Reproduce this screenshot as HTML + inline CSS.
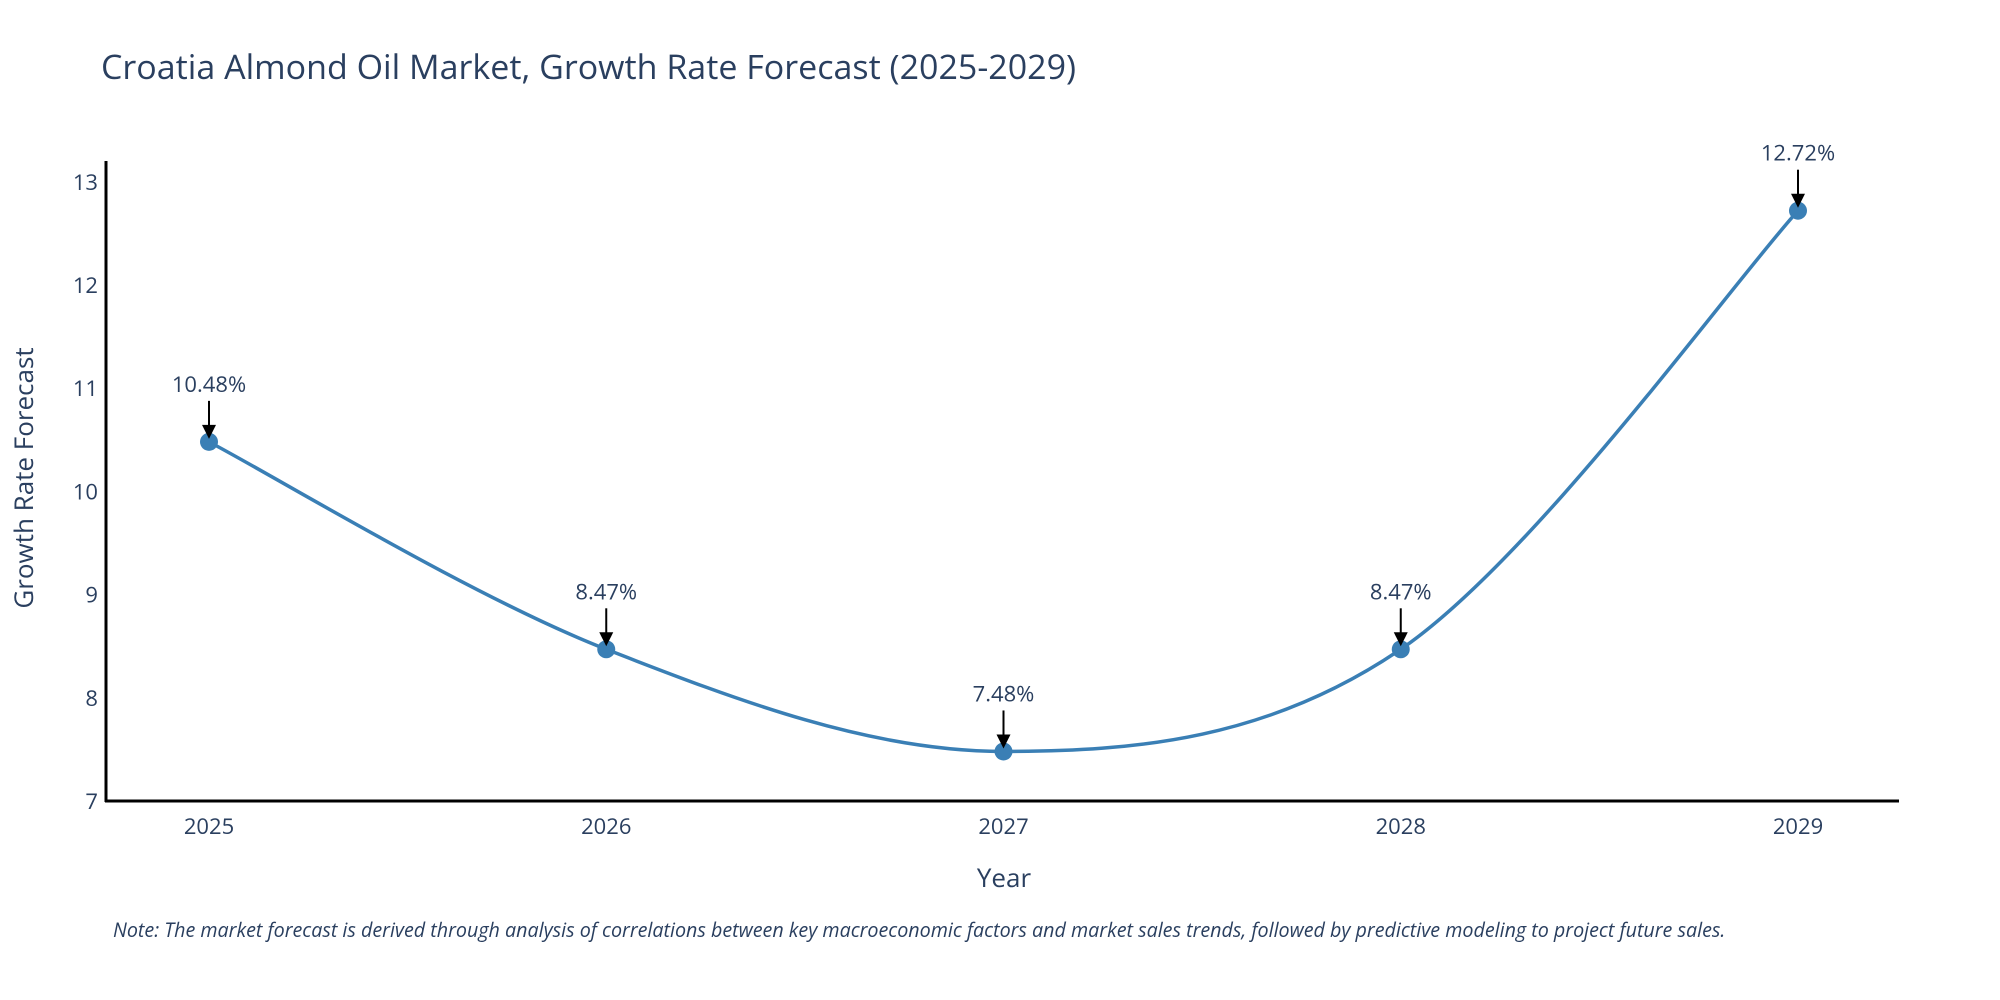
<!DOCTYPE html>
<html><head><meta charset="utf-8"><style>
html,body{margin:0;padding:0;background:#fff;}
svg{display:block;font-family:"Open Sans","Liberation Sans",sans-serif;}
</style></head><body>
<svg id="chart" width="2000" height="1000" viewBox="0 0 2000 1000">
<text x="101" y="79" font-size="34" fill="#2a3f5f">Croatia Almond Oil Market, Growth Rate Forecast (2025-2029)</text>
<g id="yticks"></g>
<g id="xticks"></g>
<line x1="106" y1="161" x2="106" y2="802" stroke="#000" stroke-width="3"/>
<line x1="105" y1="801" x2="1899" y2="801" stroke="#000" stroke-width="3"/>
<path id="line" fill="none" stroke="#3a7fb5" stroke-width="3.5"/>
<g id="points"></g>
<g id="annots"></g>
<text x="1004" y="887" font-size="26" fill="#2a3f5f" text-anchor="middle">Year</text>
<text x="0" y="0" font-size="26" fill="#2a3f5f" text-anchor="middle" transform="translate(33,478) rotate(-90)">Growth Rate Forecast</text>
<text x="113" y="937" font-size="19.7" font-style="italic" fill="#2a3f5f">Note: The market forecast is derived through analysis of correlations between key macroeconomic factors and market sales trends, followed by predictive modeling to project future sales.</text>
</svg>
<script>
const years = ["2025","2026","2027","2028","2029"];
const values = [10.48, 8.47, 7.48, 8.47, 12.72];
const labels = ["10.48%","8.47%","7.48%","8.47%","12.72%"];
const yTicks = [7,8,9,10,11,12,13];
const NS="http://www.w3.org/2000/svg";
const xs=i=>209+i*397.25;
const ys=v=>801-(v-7)*103.2;
function mk(t,a,p){const e=document.createElementNS(NS,t);for(const k in a)e.setAttribute(k,a[k]);p.appendChild(e);return e;}
const yt=document.getElementById('yticks');
yTicks.forEach(v=>{const t=mk('text',{x:98,y:ys(v)+8,'font-size':22,fill:'#2a3f5f','text-anchor':'end'},yt);t.textContent=v;

});
const xt=document.getElementById('xticks');
years.forEach((y,i)=>{const t=mk('text',{x:xs(i),y:834,'font-size':22,fill:'#2a3f5f','text-anchor':'middle'},xt);t.textContent=y;

});
const P=values.map((v,i)=>[xs(i),ys(v)]);
let d=`M${P[0][0]},${P[0][1]}`;
for(let i=0;i<P.length-1;i++){const p0=P[Math.max(i-1,0)],p1=P[i],p2=P[i+1],p3=P[Math.min(i+2,P.length-1)];
const c1=[p1[0]+(p2[0]-p0[0])/6,p1[1]+(p2[1]-p0[1])/6],c2=[p2[0]-(p3[0]-p1[0])/6,p2[1]-(p3[1]-p1[1])/6];
d+=` C${c1[0]},${c1[1]} ${c2[0]},${c2[1]} ${p2[0]},${p2[1]}`;}
document.getElementById('line').setAttribute('d',d);
const pg=document.getElementById('points'),ag=document.getElementById('annots');
P.forEach((p,i)=>{const c=mk('circle',{cx:p[0],cy:p[1],r:9,fill:'#3a7fb5'},pg);


const l=mk('line',{x1:p[0],y1:p[1]-41,x2:p[0],y2:p[1]-14,stroke:'#000','stroke-width':2},ag);


const h=mk('polygon',{points:`${p[0]-7},${p[1]-17} ${p[0]+7},${p[1]-17} ${p[0]},${p[1]-3}`,fill:'#000'},ag);


const t=mk('text',{x:p[0],y:p[1]-50,'font-size':22,fill:'#2a3f5f','text-anchor':'middle'},ag);t.textContent=labels[i];

});
</script>
</body></html>
